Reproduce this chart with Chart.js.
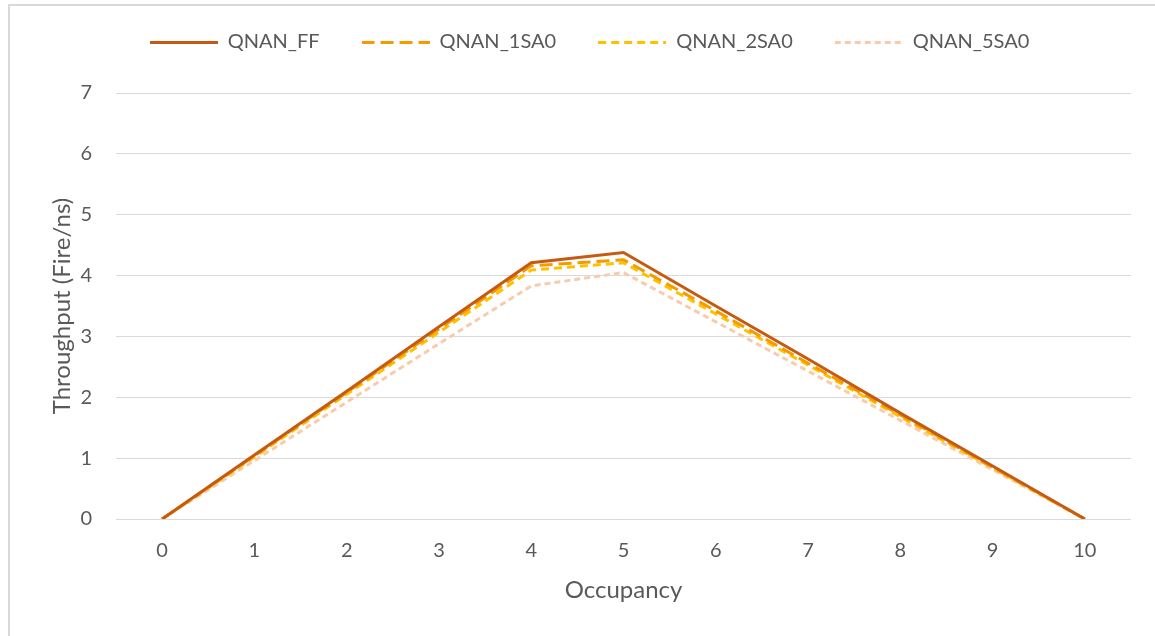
<!DOCTYPE html>
<html>
<head>
<meta charset="utf-8">
<script src="https://cdn.jsdelivr.net/npm/chart.js@4/dist/chart.umd.min.js"></script>
<style>
body{margin:0;background:#fff;}
#frame{position:absolute;left:8px;top:4px;width:1200px;height:700px;border-left:2px solid #d9d9d9;border-top:2px solid #d9d9d9;}
#wrap{position:absolute;left:0;top:0;width:1155px;height:636px;}
</style>
</head>
<body>
<div id="frame"></div>
<div id="wrap"><canvas id="cnv" width="1155" height="636"></canvas></div>
<script>
var occupancy=["0","1","2","3","4","5","6","7","8","9","10"];
var qnan_ff=[0,1.05,2.1,3.16,4.21,4.38,3.5,2.63,1.74,0.87,0];
var qnan_1sa0=[0,1.04,2.08,3.12,4.16,4.26,3.42,2.56,1.71,0.85,0];
var qnan_2sa0=[0,1.02,2.05,3.07,4.09,4.21,3.37,2.53,1.68,0.84,0];
var qnan_5sa0=[0,0.96,1.92,2.88,3.83,4.05,3.24,2.43,1.62,0.81,0];
var y_min=0,y_max=7,y_step=1;

var txt="#595959";
var fnt="Lato";
var legend_len=68;
var legend_gap=31;

function serie(label,data,color,dash){
	return {label:label,data:data,borderColor:color,backgroundColor:color,borderWidth:3,borderDash:dash,pointRadius:0,tension:0,fill:false,borderCapStyle:"butt",borderJoinStyle:"miter"};
};

// little dashed line pictures for the legend, chart.js draws pointStyle 'line' solid
function legendLine(color,dash){
	var c=document.createElement("canvas");
	c.width=legend_len;c.height=3;
	var ctx=c.getContext("2d");
	ctx.strokeStyle=color;ctx.lineWidth=3;ctx.setLineDash(dash);
	ctx.beginPath();ctx.moveTo(0,1.5);ctx.lineTo(legend_len,1.5);ctx.stroke();
	return c;
};

var data={
	labels:occupancy,
	datasets:[
		serie("QNAN_FF",qnan_ff,"#c55a11",[]),
		serie("QNAN_1SA0",qnan_1sa0,"#f59b00",[13,6]),
		serie("QNAN_2SA0",qnan_2sa0,"#ffc000",[8,5]),
		serie("QNAN_5SA0",qnan_5sa0,"#f8cbad",[6,4])
	]
};
var legend_pics=data.datasets.map(function(d){return legendLine(d.borderColor,d.borderDash);});

// extra room between legend and plot
var legendGapPlugin={
	id:"legendGap",
	beforeLayout:function(chart){
		var lg=chart.legend;
		if(lg&&!lg._gapDone){
			var f=lg.fit;
			lg.fit=function(){f.call(this);this.height+=legend_gap;};
			lg._gapDone=true;
		}
	}
};

var options={
	responsive:false,
	animation:false,
	layout:{padding:{left:48,right:24,top:-10,bottom:0}},
	plugins:{
		tooltip:{enabled:false},
		legend:{
			position:"top",
			labels:{
				color:txt,font:{family:fnt,size:20},usePointStyle:true,pointStyleWidth:legend_len,boxWidth:legend_len,boxHeight:10,padding:42,
				generateLabels:function(chart){
					var items=Chart.defaults.plugins.legend.labels.generateLabels(chart);
					for(var i=0;i<items.length;i++)items[i].pointStyle=legend_pics[items[i].datasetIndex];
					return items;
				}
			}
		}
	},
	scales:{
		x:{
			offset:true,
			grid:{display:false,drawTicks:false},
			border:{display:false},
			ticks:{color:txt,font:{family:fnt,size:20},padding:20,maxRotation:0},
			title:{display:true,text:"Occupancy",color:txt,font:{family:fnt,size:24},padding:{top:0,bottom:31}},
			afterFit:function(s){s.height=117;}
		},
		y:{
			min:y_min,max:y_max,
			grid:{color:"#d9d9d9",lineWidth:1,drawTicks:false},
			border:{display:false},
			ticks:{stepSize:y_step,color:txt,font:{family:fnt,size:20},padding:24},
			title:{display:true,text:"Throughput (Fire/ns)",color:txt,font:{family:fnt,size:24},padding:{top:0,bottom:0}},
			afterFit:function(s){s.width=68;}
		}
	}
};

var chart=new Chart(document.getElementById("cnv").getContext("2d"),{type:"line",data:data,options:options,plugins:[legendGapPlugin]});
</script>
</body>
</html>
